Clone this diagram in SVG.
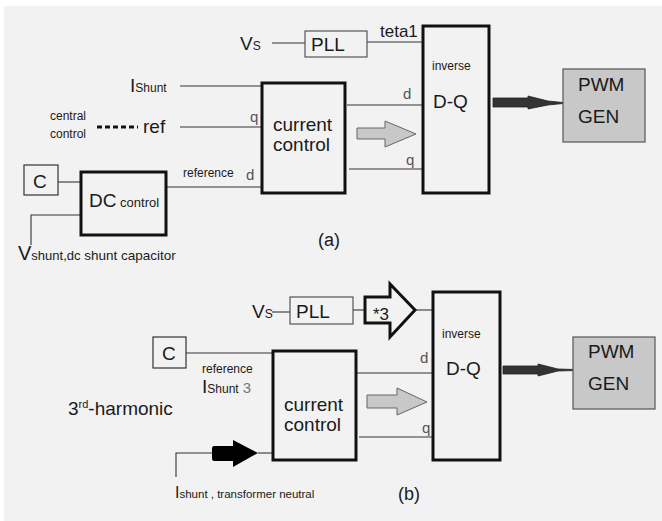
<svg xmlns="http://www.w3.org/2000/svg" width="662" height="521" viewBox="0 0 662 521">
<style>
text{font-family:"Liberation Sans",Arial,sans-serif;fill:#1a1a1a}
.thick{fill:none;stroke:#111;stroke-width:3}
.thin{fill:none;stroke:#333;stroke-width:1.2}
.pll{fill:none;stroke:#555;stroke-width:1.2}
.pwm{fill:#c8c8c8;stroke:#555;stroke-width:1.2}
.ln{fill:none;stroke:#333;stroke-width:1.1}
.big{font-size:19px}
.mid{font-size:17px}
.sm{font-size:12px}
.lab{font-size:15px;fill:#555}
.garrow{fill:#c8c8c8;stroke:#666;stroke-width:1}
.darrow{fill:#333;stroke:#222;stroke-width:0.8}
</style>
<rect x="0" y="0" width="662" height="521" fill="#ffffff"/>
<rect x="4" y="6" width="658" height="515" fill="#f2f2f2"/>

<g id="connectors">
  <!-- (a) -->
  <line class="ln" x1="272" y1="43" x2="305" y2="43"/>
  <line class="ln" x1="367" y1="42" x2="423" y2="42"/>
  <line class="ln" x1="180" y1="86" x2="262" y2="86"/>
  <line x1="97" y1="127" x2="138" y2="127" stroke="#111" stroke-width="3" stroke-dasharray="5,3"/>
  <line class="ln" x1="180" y1="127" x2="262" y2="127"/>
  <line class="ln" x1="167" y1="187" x2="262" y2="187"/>
  <line class="ln" x1="58" y1="182" x2="81" y2="182"/>
  <polyline class="ln" points="31,245 31,215 81,215"/>
  <line class="ln" x1="347" y1="105" x2="423" y2="105"/>
  <line class="ln" x1="349" y1="169" x2="423" y2="169"/>
  <polygon class="garrow" points="357,128 385,128 385,121 416,134 385,147 385,139 357,139"/>
  <polygon class="darrow" points="493,98 528,98 528,96 548,101 563,102.5 563,103.5 548,105 528,109 528,107 493,107"/>
  <!-- (b) -->
  <line class="ln" x1="272" y1="312" x2="290" y2="312"/>
  <line class="ln" x1="353" y1="310" x2="365" y2="310"/>
  <line class="ln" x1="415" y1="310" x2="433" y2="310"/>
  <line class="ln" x1="186" y1="353" x2="273" y2="353"/>
  <line class="ln" x1="357" y1="373" x2="433" y2="373"/>
  <line class="ln" x1="359" y1="437" x2="433" y2="437"/>
  <polyline class="ln" points="176,477 176,453 212,453"/>
  <line class="ln" x1="258" y1="453" x2="273" y2="453"/>
  <path d="M214,446 L233,446 L233,440 L258,453 L233,467 L233,461 L214,461 Q212,461 212,458 L212,449 Q212,446 214,446 Z" fill="#000"/>
  <polygon points="365,297 390,297 390,284 415,310 390,337 390,323 365,323" fill="none" stroke="#111" stroke-width="3" stroke-linejoin="miter"/>
  <polygon class="garrow" points="367,395 397,395 397,388 427,402 397,415 397,408 367,408"/>
  <polygon class="darrow" points="503,366 538,366 538,364 558,369 575,369.5 575,370.5 558,371 538,376 538,374 503,374"/>
</g>

<g id="labels-a">
  <text x="240" y="50" class="big">V<tspan font-size="12">S</tspan></text>
  <text x="380" y="37" class="mid">teta1</text>
  <text x="130" y="92" class="big">I<tspan font-size="12">Shunt</tspan></text>
  <text x="50" y="120" class="sm">central</text>
  <text x="50" y="138" class="sm">control</text>
  <text x="143" y="133" class="big">ref</text>
  <text x="250" y="122" class="lab">q</text>
  <text x="183" y="177" class="sm">reference</text>
  <text x="246" y="180" class="lab">d</text>
  <text x="403" y="99" class="lab">d</text>
  <text x="406" y="165" class="lab">q</text>
  <text x="18" y="260" font-size="20">V<tspan font-size="13">shunt,dc</tspan><tspan font-size="13.5"> shunt capacitor</tspan></text>
  <text x="318" y="246" font-size="18">(a)</text>
</g>
<g id="pll-a"><rect class="pll" x="305" y="31" width="62" height="26"/><text x="311" y="51" class="big">PLL</text></g>
<g id="current-control-a"><rect class="thick" x="262" y="83" width="83" height="110"/><text x="273" y="131" class="big">current</text><text x="273" y="151" class="big">control</text></g>
<g id="dq-a"><rect class="thick" x="423" y="26" width="66" height="167"/><text x="432" y="70" font-size="12">inverse</text><text x="433" y="108" class="big">D-Q</text></g>
<g id="pwm-a"><rect class="pwm" x="563" y="69" width="82" height="73"/><text x="578" y="91" class="big">PWM</text><text x="578" y="123" class="big">GEN</text></g>
<g id="c-a"><rect class="thin" x="24" y="165" width="34" height="30"/><text x="33" y="188" class="big">C</text></g>
<g id="dc-control"><rect class="thick" x="81" y="172" width="85" height="63"/><text x="89" y="207" class="big">DC<tspan font-size="13"> control</tspan></text></g>

<g id="labels-b">
  <text x="252" y="318" class="big">V<tspan font-size="12">S</tspan></text>
  <text x="202" y="373" class="sm">reference</text>
  <text x="202" y="393" class="big">I<tspan font-size="12">Shunt</tspan><tspan font-size="15" fill="#777"> 3</tspan></text>
  <text x="68" y="415" class="big">3<tspan font-size="11" dy="-7">rd</tspan><tspan dy="7">-harmonic</tspan></text>
  <text x="175" y="498" font-size="16" fill="#444">I<tspan font-size="11.5">shunt , transformer neutral</tspan></text>
  <text x="420" y="363" class="lab">d</text>
  <text x="422" y="433" class="lab">q</text>
  <text x="373" y="320" class="mid">*3</text>
  <text x="398" y="500" font-size="18">(b)</text>
</g>
<g id="pll-b"><rect class="pll" x="290" y="297" width="63" height="27"/><text x="296" y="318" class="big">PLL</text></g>
<g id="c-b"><rect class="thin" x="153" y="337" width="33" height="31"/><text x="162" y="360" class="big">C</text></g>
<g id="current-control-b"><rect class="thick" x="273" y="351" width="83" height="109"/><text x="284" y="411" class="big">current</text><text x="284" y="431" class="big">control</text></g>
<g id="dq-b"><rect class="thick" x="433" y="292" width="67" height="168"/><text x="442" y="338" font-size="12">inverse</text><text x="446" y="375" class="big">D-Q</text></g>
<g id="pwm-b"><rect class="pwm" x="573" y="337" width="82" height="72"/><text x="588" y="358" class="big">PWM</text><text x="588" y="390" class="big">GEN</text></g>
</svg>
